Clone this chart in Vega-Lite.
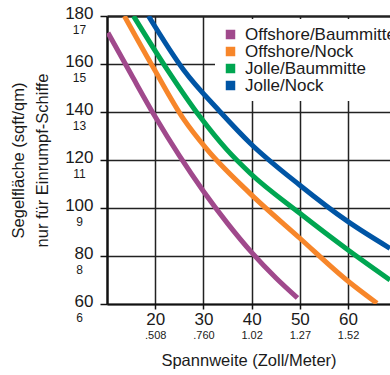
{
  "$schema": "https://vega.github.io/schema/vega-lite/v6.json",
  "width": 283,
  "height": 288,
  "autosize": {"type": "none"},
  "padding": {"left": 107, "top": 16, "right": 0, "bottom": 71},
  "background": "white",
  "config": {"view": {"stroke": null}, "font": "Liberation Sans"},
  "data": {
    "values": [
      {"serie": "Offshore/Baummitte", "zoll": 10.2, "flaeche": 173},
      {"serie": "Offshore/Baummitte", "zoll": 15, "flaeche": 155.7},
      {"serie": "Offshore/Baummitte", "zoll": 20, "flaeche": 138},
      {"serie": "Offshore/Baummitte", "zoll": 25, "flaeche": 121.8},
      {"serie": "Offshore/Baummitte", "zoll": 30, "flaeche": 107},
      {"serie": "Offshore/Baummitte", "zoll": 35, "flaeche": 93.6},
      {"serie": "Offshore/Baummitte", "zoll": 40, "flaeche": 81.5},
      {"serie": "Offshore/Baummitte", "zoll": 45, "flaeche": 70.9},
      {"serie": "Offshore/Baummitte", "zoll": 49.5, "flaeche": 62.5},
      {"serie": "Offshore/Nock", "zoll": 13.6, "flaeche": 180},
      {"serie": "Offshore/Nock", "zoll": 19.6, "flaeche": 158.5},
      {"serie": "Offshore/Nock", "zoll": 25.9, "flaeche": 137},
      {"serie": "Offshore/Nock", "zoll": 30.7, "flaeche": 124.5},
      {"serie": "Offshore/Nock", "zoll": 39.7, "flaeche": 106},
      {"serie": "Offshore/Nock", "zoll": 50, "flaeche": 87.4},
      {"serie": "Offshore/Nock", "zoll": 59.7, "flaeche": 70},
      {"serie": "Offshore/Nock", "zoll": 66, "flaeche": 60.3},
      {"serie": "Jolle/Baummitte", "zoll": 15.5, "flaeche": 180},
      {"serie": "Jolle/Baummitte", "zoll": 22.4, "flaeche": 158},
      {"serie": "Jolle/Baummitte", "zoll": 29.3, "flaeche": 138},
      {"serie": "Jolle/Baummitte", "zoll": 34.9, "flaeche": 124.2},
      {"serie": "Jolle/Baummitte", "zoll": 39.7, "flaeche": 114.5},
      {"serie": "Jolle/Baummitte", "zoll": 50, "flaeche": 97.8},
      {"serie": "Jolle/Baummitte", "zoll": 60, "flaeche": 82.5},
      {"serie": "Jolle/Baummitte", "zoll": 68.7, "flaeche": 70},
      {"serie": "Jolle/Nock", "zoll": 18.6, "flaeche": 180},
      {"serie": "Jolle/Nock", "zoll": 25.9, "flaeche": 157.5},
      {"serie": "Jolle/Nock", "zoll": 33.5, "flaeche": 140},
      {"serie": "Jolle/Nock", "zoll": 39.7, "flaeche": 127},
      {"serie": "Jolle/Nock", "zoll": 50, "flaeche": 109.5},
      {"serie": "Jolle/Nock", "zoll": 60, "flaeche": 94.3},
      {"serie": "Jolle/Nock", "zoll": 68.7, "flaeche": 83.2}
    ]
  },
  "layer": [
    {
      "mark": {"type": "line", "strokeWidth": 5, "clip": true, "interpolate": "monotone", "strokeCap": "butt"},
      "encoding": {
        "x": {
          "field": "zoll", "type": "quantitative",
          "scale": {"domain": [10, 68.7], "nice": false, "zero": false},
          "axis": {
            "values": [20, 30, 40, 50, 60],
            "title": "Spannweite (Zoll/Meter)",
            "titleFontSize": 16.5, "titleFontWeight": 400, "titleColor": "#1a1a1a",
            "titleX": 141.5, "titleY": 61, "titleBaseline": "alphabetic",
            "labelFontSize": 17, "labelFontWeight": 400, "labelColor": "#1a1a1a", "labelBaseline": "alphabetic", "labelPadding": 15,
            "tickSize": 5, "tickColor": "#111", "tickWidth": 1.5,
            "domainColor": "#111", "domainWidth": 2,
            "grid": true, "gridColor": "#222", "gridWidth": 1.5, "gridOpacity": 1
          }
        },
        "y": {
          "field": "flaeche", "type": "quantitative",
          "scale": {"domain": [60, 180], "nice": false, "zero": false},
          "axis": {
            "values": [60, 80, 100, 120, 140, 160, 180],
            "title": ["Segelfläche (sqft/qm)", "nur für Einrumpf-Schiffe"],
            "titleFontSize": 16.5, "titleFontWeight": 400, "titleColor": "#1a1a1a", "titleLineHeight": 24,
            "titleX": -84, "titleY": 144, "titleAngle": -90, "titleAlign": "center", "titleBaseline": "alphabetic",
            "labelFontSize": 17, "labelFontWeight": 400, "labelColor": "#1a1a1a", "labelBaseline": "alphabetic", "labelOffset": 2.5, "labelPadding": 7,
            "tickSize": 7, "tickColor": "#111", "tickWidth": 1.5,
            "domainColor": "#111", "domainWidth": 2.5,
            "grid": true, "gridColor": "#222", "gridOpacity": 1,
            "gridWidth": {"condition": {"test": "datum.value == 180", "value": 2.5}, "value": 1.5}
          }
        },
        "color": {
          "field": "serie", "type": "nominal",
          "scale": {
            "domain": ["Offshore/Baummitte", "Offshore/Nock", "Jolle/Baummitte", "Jolle/Nock"],
            "range": ["#a0498c", "#f7862a", "#00a651", "#0055a5"]
          },
          "legend": {
            "orient": "none", "legendX": 108, "legendY": 3,
            "title": null, "fillColor": "white", "padding": 7,
            "symbolType": "square", "symbolSize": 90, "symbolStrokeWidth": 0,
            "labelFontSize": 17, "labelFontWeight": 400, "labelColor": "#1a1a1a", "labelOffset": 6, "rowPadding": -1,
            "encode": {"symbols": {"update": {"fill": {"scale": "color", "field": "value"}, "fillOpacity": {"value": 1}}}}
          }
        }
      }
    },
    {
      "mark": {"type": "line", "strokeOpacity": 0},
      "encoding": {
        "detail": {"field": "serie"},
        "x": {
          "field": "zoll", "type": "quantitative",
          "axis": {
            "orient": "bottom", "values": [20, 30, 40, 50, 60],
            "labelExpr": "datum.value == 20 ? '.508' : datum.value == 30 ? '.760' : datum.value == 40 ? '1.02' : datum.value == 50 ? '1.27' : '1.52'",
            "title": null, "grid": false, "domain": false, "ticks": false,
            "labelFontSize": 11, "labelFontWeight": 400, "labelColor": "#1a1a1a", "labelBaseline": "alphabetic", "labelPadding": 34
          }
        },
        "y": {
          "field": "flaeche", "type": "quantitative",
          "axis": {
            "orient": "left", "values": [60, 80, 100, 120, 140, 160, 180],
            "labelExpr": "datum.value == 180 ? '17' : datum.value == 160 ? '15' : datum.value == 140 ? '13' : datum.value == 120 ? '11' : datum.value == 100 ? '9' : datum.value == 80 ? '8' : '6'",
            "title": null, "grid": false, "domain": false, "ticks": false,
            "labelFontSize": 12, "labelFontWeight": 400, "labelColor": "#1a1a1a", "labelAlign": "center", "labelBaseline": "alphabetic",
            "labelOffset": 17.5, "labelPadding": 28
          }
        }
      }
    }
  ],
  "resolve": {"axis": {"x": "independent", "y": "independent"}}
}
